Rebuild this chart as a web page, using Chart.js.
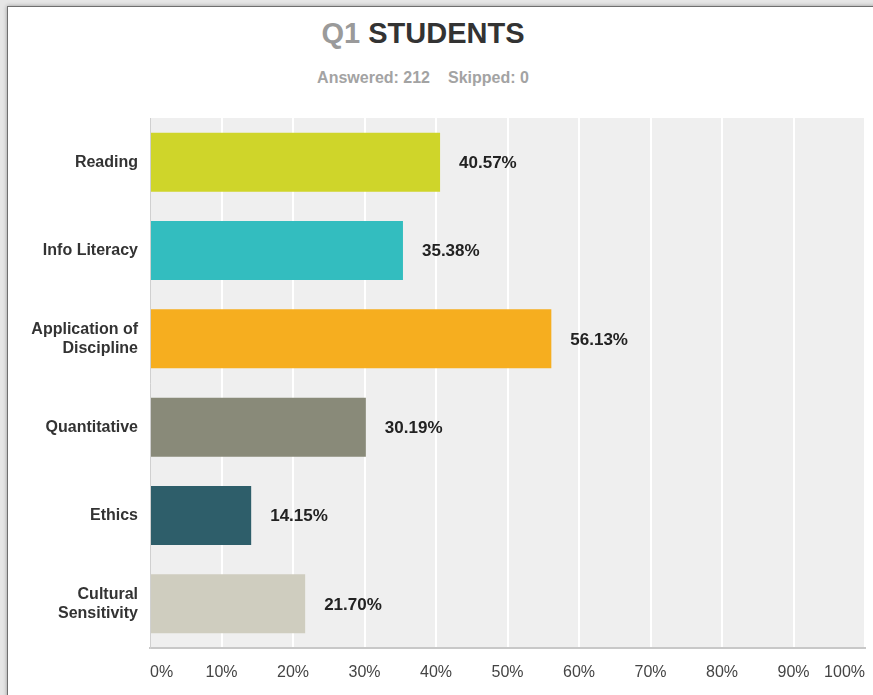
<!DOCTYPE html>
<html>
<head>
<meta charset="utf-8">
<script src="https://cdn.jsdelivr.net/npm/chart.js@4/dist/chart.umd.min.js"></script>
<style>
  body { margin: 0; background: #e6e6e6; width: 873px; height: 695px; overflow: hidden; position: relative; font-family: "Liberation Sans", Arial, sans-serif; }
  #frame { position: absolute; left: 7px; top: 6px; width: 900px; height: 720px; background: #fff; border: 1px solid #6f6f6f; box-shadow: 0 0 4px rgba(0,0,0,0.35); }
  #title { position: absolute; left: 0; top: 19px; width: 846px; text-align: center; font-weight: bold; font-size: 29px; line-height: 1; color: #333; }
  #title .q { color: #9a9a9a; }
  #sub { position: absolute; left: 0; top: 70px; width: 846px; text-align: center; font-weight: bold; font-size: 16px; line-height: 1; color: #a3a3a3; }
  #sub span + span { margin-left: 18px; }
  #chartBox { position: absolute; left: 0; top: 0; width: 873px; height: 695px; }
</style>
</head>
<body>
<div id="frame"></div>
<div id="title"><span class="q">Q1</span> STUDENTS</div>
<div id="sub"><span>Answered: 212</span><span>Skipped: 0</span></div>
<div id="chartBox"><canvas id="q1Chart" width="873" height="695"></canvas></div>

<script>
// categories (two-line ones as arrays)
const categories = ['Reading', 'Info Literacy', ['Application of', 'Discipline'], 'Quantitative', 'Ethics', ['Cultural', 'Sensitivity']];
// percent of students
const percents = [40.57, 35.38, 56.13, 30.19, 14.15, 21.70];
const barColors = ['#cfd52a', '#33bdbf', '#f6ae1f', '#898a79', '#2e5e6a', '#cfcdbf'];
const tickValues = [0, 10, 20, 30, 40, 50, 60, 70, 80, 90, 100];

// gray plot background behind the bars
const plotBg = {
    id: 'plotBg',
    beforeDraw(chart) {
        const a = chart.chartArea;
        const ctx = chart.ctx;
        ctx.save();
        ctx.fillStyle = '#efefef';
        ctx.fillRect(a.left, a.top, a.right - a.left, a.bottom - a.top);
        ctx.restore();
    }
};

// percent text right of each bar
const valueLabels = {
    id: 'valueLabels',
    afterDatasetsDraw(chart) {
        const ctx = chart.ctx;
        const bars = chart.getDatasetMeta(0).data;
        ctx.save();
        ctx.font = 'bold 17px "Liberation Sans", Arial, sans-serif';
        ctx.fillStyle = '#222';
        ctx.textAlign = 'left';
        ctx.textBaseline = 'middle';
        bars.forEach((bar, i) => {
            ctx.fillText(percents[i].toFixed(2) + '%', bar.x + 19, bar.y + 1);
        });
        ctx.restore();
    }
};

// x tick labels: first one left aligned, last one right aligned
const xTickText = {
    id: 'xTickText',
    afterDraw(chart) {
        const scale = chart.scales.x;
        const ctx = chart.ctx;
        ctx.save();
        ctx.font = '16px "Liberation Sans", Arial, sans-serif';
        ctx.fillStyle = '#444';
        ctx.textBaseline = 'middle';
        tickValues.forEach((v, i) => {
            const x = scale.getPixelForValue(v);
            ctx.textAlign = i === 0 ? 'left' : (i === tickValues.length - 1 ? 'right' : 'center');
            ctx.fillText(v + '%', x, chart.chartArea.bottom + 25);
        });
        ctx.restore();
    }
};

new Chart(document.getElementById('q1Chart'), {
    type: 'bar',
    data: {
        labels: categories,
        datasets: [{
            data: percents,
            backgroundColor: barColors,
            borderWidth: 0,
            categoryPercentage: 1,
            barPercentage: 0.667
        }]
    },
    options: {
        indexAxis: 'y',
        responsive: false,
        animation: false,
        layout: { padding: { top: 118, right: 8, left: 0, bottom: 0 } },
        plugins: { legend: { display: false }, tooltip: { enabled: false } },
        scales: {
            x: {
                min: 0,
                max: 100,
                afterBuildTicks: s => { s.ticks = tickValues.map(v => ({ value: v })); },
                afterFit: s => { s.height = 47; },
                ticks: { display: false },
                grid: {
                    color: c => c.index === 0 ? 'rgba(0,0,0,0)' : '#ffffff',
                    lineWidth: 2,
                    drawTicks: false
                },
                border: { display: true, color: '#c8c8c8', width: 2 }
            },
            y: {
                afterFit: s => { s.width = 150; },
                grid: { display: false, drawTicks: false },
                border: { display: true, color: '#d0d0d0', width: 1 },
                ticks: {
                    padding: 12,
                    color: '#333',
                    font: { family: '"Liberation Sans", Arial, sans-serif', size: 16, weight: 'bold', lineHeight: 1.2 }
                }
            }
        }
    },
    plugins: [plotBg, valueLabels, xTickText]
});
</script>
</body>
</html>
